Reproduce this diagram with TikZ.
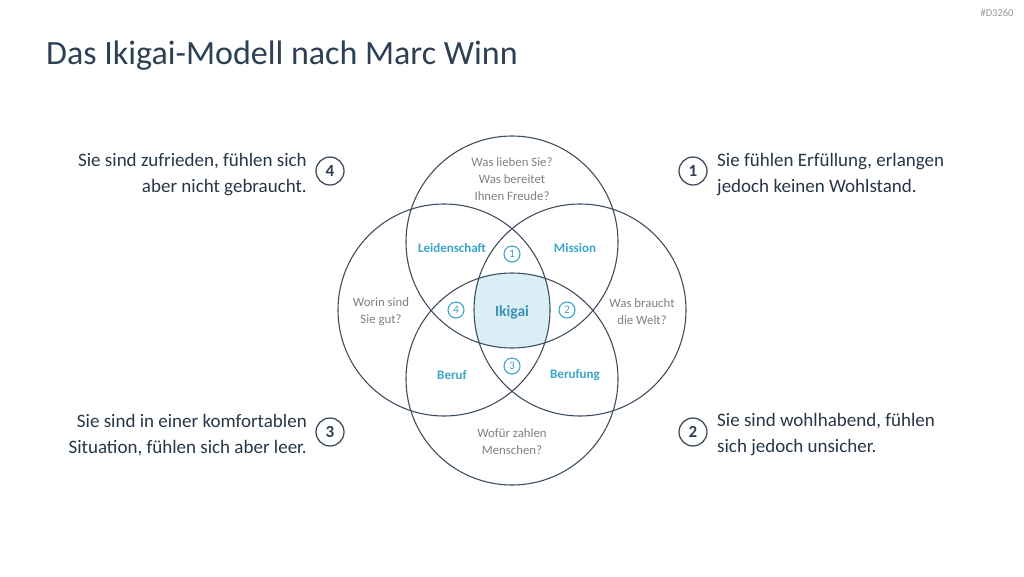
\documentclass[tikz,border=0pt]{standalone}
\usepackage{fontspec}
\setmainfont{Carlito}
\definecolor{navy}{HTML}{2E4053}
\definecolor{ringcol}{HTML}{3D4E60}
\definecolor{aqua}{HTML}{3AA5C9}
\definecolor{ikifill}{HTML}{DAEEF5}
\definecolor{note}{HTML}{7F7F7F}
\begin{document}
\begin{tikzpicture}[x=1pt, y=-1pt,
  every node/.style={align=center, inner sep=0pt},
  ring/.style={draw=ringcol, line width=1.1pt, circle, minimum size=212pt},
  question/.style={text=note, font=\fontsize{12.8}{17}\selectfont},
  area/.style={text=aqua, font=\bfseries\fontsize{13}{15}\selectfont},
  numsmall/.style={circle, draw=aqua, line width=1.1pt, minimum size=16pt, text=aqua, font=\fontsize{11.5}{11.5}\selectfont},
  numbig/.style={circle, draw=ringcol, line width=1.3pt, minimum size=28pt, text=navy, font=\bfseries\fontsize{17}{17}\selectfont},
  remark/.style={text=navy!85!black, font=\fontsize{19}{26}\selectfont}]
  \useasboundingbox (0,0) rectangle (1024,576);

  % Title and tag
  \node[anchor=base west, text=navy, font=\fontsize{34}{38}\selectfont] (title) at (46,64) {Das Ikigai-Modell nach Marc Winn};
  \node[text=note!80, font=\fontsize{10.5}{12}\selectfont] (tag) at (997,13) {\#D3260};

  % Ikigai core: all four circles overlap
  \begin{scope}
    \clip (512,242) circle (106);
    \clip (512,379) circle (106);
    \clip (444,310) circle (106);
    \clip (580,310) circle (106);
    \fill[ikifill] (400,200) rectangle (620,420);
  \end{scope}

  % Four circles
  \node[ring] (love) at (512,242) {};
  \node[ring] (paid) at (512,379) {};
  \node[ring] (good) at (444,310) {};
  \node[ring] (need) at (580,310) {};

  % Questions
  \node[question] (qlove) at (512,179) {Was lieben Sie?\\Was bereitet\\Ihnen Freude?};
  \node[question] (qgood) at (381,312) {Worin sind\\Sie gut?};
  \node[question] (qneed) at (642,312) {Was braucht\\die Welt?};
  \node[question] (qpaid) at (512,442) {Wofür zahlen\\Menschen?};

  % Overlaps
  \node[area] (passion) at (452,248) {Leidenschaft};
  \node[area] (mission) at (575,248) {Mission};
  \node[area] (profession) at (452,375) {Beruf};
  \node[area] (vocation) at (575,375) {Berufung};
  \node[text=aqua!80!navy, font=\bfseries\fontsize{15.5}{15.5}\selectfont] (ikigai) at (512,312) {Ikigai};

  \node[numsmall] (s1) at (512,254) {1};
  \node[numsmall] (s2) at (567,310) {2};
  \node[numsmall] (s3) at (512,366) {3};
  \node[numsmall] (s4) at (456,310) {4};

  % Side notes
  \node[numbig] (n1) at (693,171) {1};
  \node[numbig] (n2) at (693,432) {2};
  \node[numbig] (n3) at (330,432) {3};
  \node[numbig] (n4) at (330,171) {4};

  \node[remark, anchor=west, align=left] (t1) at (717,175) {Sie fühlen Erfüllung, erlangen\\jedoch keinen Wohlstand.};
  \node[remark, anchor=west, align=left] (t2) at (717,435) {Sie sind wohlhabend, fühlen\\sich jedoch unsicher.};
  \node[remark, anchor=east, align=right] (t3) at (307,435) {Sie sind in einer komfortablen\\Situation, fühlen sich aber leer.};
  \node[remark, anchor=east, align=right] (t4) at (307,175) {Sie sind zufrieden, fühlen sich\\aber nicht gebraucht.};
\end{tikzpicture}
\end{document}
